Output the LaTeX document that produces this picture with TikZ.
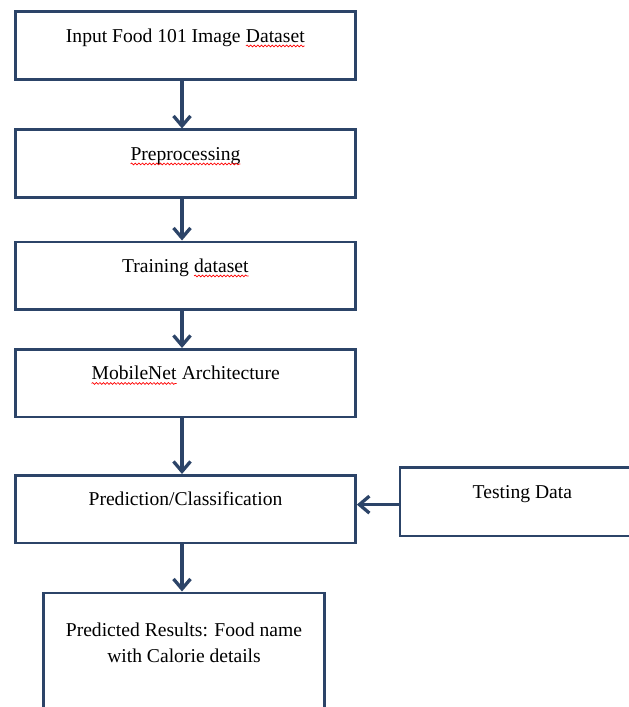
\documentclass[tikz,border=0pt]{standalone}
\usepackage{fontspec}
\setmainfont{Liberation Serif}
\usetikzlibrary{arrows.meta,decorations.pathmorphing}
\definecolor{navy}{HTML}{2C4468}
\newcommand\spellerr[1]{\tikz[baseline=(sw.base)]{\node[inner sep=0pt,outer sep=0pt,draw=none,text height=,text depth=,minimum width=0pt](sw){#1};\draw[red,line width=0.7bp,decorate,decoration={snake,amplitude=0.9bp,segment length=3.6bp}] ([yshift=-3.6bp]sw.base west) -- ([yshift=-3.6bp]sw.base east);}}
\begin{document}
\begin{tikzpicture}[x=1bp,y=-1bp,
  box/.style={draw=navy, line width=2.7bp, inner sep=0pt, minimum width=340bp,
    text height=30.5bp, text depth=37bp, font=\fontsize{19.6bp}{26bp}\selectfont},
  arr/.style={draw=navy, line width=3.3bp, -{Straight Barb[length=10bp,width=17bp,line width=3.3bp]}}]
\clip (0,0) rectangle (629,707);
\node[box, anchor=north] (in) at (185.5,10.5) {Input Food 101 Image \spellerr{Dataset}};
\node[box, anchor=north] (pre) at (185.5,128.5) {\spellerr{Preprocessing}};
\node[box, anchor=north] (tr) at (185.5,240.5) {Training \spellerr{dataset}};
\node[box, anchor=north] (mn) at (185.5,348) {\spellerr{MobileNet} Architecture};
\node[box, anchor=north] (pc) at (185.5,474) {Prediction/Classification};
\node[box, anchor=north west, minimum width=245bp, text height=31bp, text depth=37.5bp] (td) at (398.5,466) {Testing Data};
\node[box, anchor=north, minimum width=281bp, text height=43.5bp, text depth=150bp] (res) at (184,591.5)
  {\begin{tabular}[t]{@{}c@{}}Predicted Results: Food name\\with Calorie details\end{tabular}};
\draw[arr] ([xshift=-3.5bp]in.south) -- ([xshift=-3.5bp]pre.north);
\draw[arr] ([xshift=-3.5bp]pre.south) -- ([xshift=-3.5bp]tr.north);
\draw[arr] ([xshift=-3.5bp]tr.south) -- ([xshift=-3.5bp]mn.north);
\draw[arr] ([xshift=-3.5bp]mn.south) -- ([xshift=-3.5bp]pc.north);
\draw[arr] ([xshift=-3.5bp]pc.south) -- ([xshift=-3.5bp]pc.south |- res.north);
\draw[arr] ([yshift=-3bp]td.west) -- ([yshift=-3bp]td.west -| pc.east);
\end{tikzpicture}
\end{document}
